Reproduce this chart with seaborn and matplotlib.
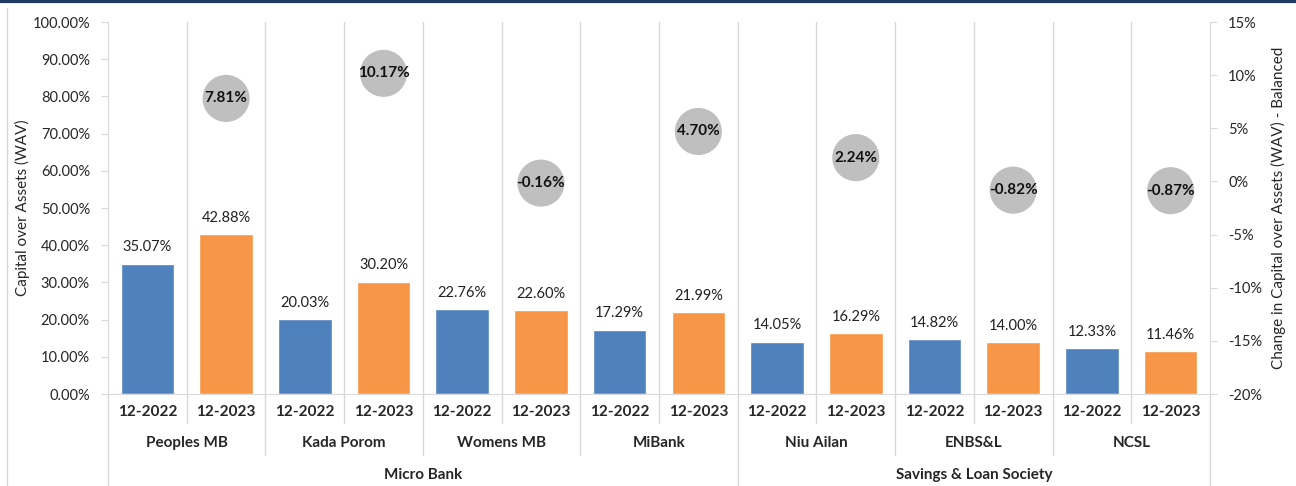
import numpy as np
import pandas as pd
import matplotlib
matplotlib.use("Agg")
import matplotlib.pyplot as plt
import matplotlib.ticker as mticker
from matplotlib.lines import Line2D
import seaborn as sns

# --- dane ---
groups = ["Micro Bank", "Savings & Loan Society"]
banks = ["Peoples MB", "Kada Porom", "Womens MB", "MiBank", "Niu Ailan", "ENBS&L", "NCSL"]
bank_group = ["Micro Bank", "Micro Bank", "Micro Bank", "Micro Bank",
              "Savings & Loan Society", "Savings & Loan Society", "Savings & Loan Society"]
periods = ["12-2022", "12-2023"]
cap_2022 = [35.07, 20.03, 22.76, 17.29, 14.05, 14.82, 12.33]
cap_2023 = [42.88, 30.20, 22.60, 21.99, 16.29, 14.00, 11.46]
change = [7.81, 10.17, -0.16, 4.70, 2.24, -0.82, -0.87]

BLUE = "#4F81BD"
ORANGE = "#F79646"
GRID = "#D9D9D9"
FONT = ["Lato", "DejaVu Sans"]

rows = []
for i, b in enumerate(banks):
    rows.append({"slot": f"{b}|{periods[0]}", "period": periods[0], "value": cap_2022[i]})
    rows.append({"slot": f"{b}|{periods[1]}", "period": periods[1], "value": cap_2023[i]})
df = pd.DataFrame(rows)

sns.set_style("white")
plt.rcParams["font.family"] = FONT

fig = plt.figure(figsize=(12.96, 4.86), dpi=100)
ax = fig.add_axes([108 / 1296, 1 - 394 / 486, (1210 - 108) / 1296, (394 - 22) / 486])

sns.barplot(data=df, x="slot", y="value", hue="period", dodge=False,
            palette={periods[0]: BLUE, periods[1]: ORANGE}, width=0.68,
            saturation=1, legend=False, ax=ax)

n = len(df)
ax.set_xlim(-0.5, n - 0.5)
ax.set_ylim(0, 100)
ax.yaxis.set_major_locator(mticker.MultipleLocator(10))
ax.yaxis.set_major_formatter(mticker.FuncFormatter(lambda v, _: f"{v:.2f}%"))
ax.set_xticks([])
ax.set_xlabel("")
ax.set_ylabel("Capital over Assets (WAV)", fontsize=11, labelpad=2)
ax.tick_params(axis="y", labelsize=10.5, length=5, color=GRID, pad=8)
for s in ["top", "right"]:
    ax.spines[s].set_visible(False)
for s in ["left", "bottom"]:
    ax.spines[s].set_color(GRID)

# linie pionowe między kategoriami
for k in range(1, n):
    ax.axvline(k - 0.5, color=GRID, linewidth=1, zorder=0)

# etykiety słupków
for p in ax.patches:
    h = p.get_height()
    if np.isnan(h) or h == 0:
        continue
    ax.text(p.get_x() + p.get_width() / 2, h + 2.5, f"{h:.2f}%",
            ha="center", va="bottom", fontsize=10.5, color="#222222")

# druga oś - zmiana
ax2 = ax.twinx()
ax2.set_ylim(-20, 15)
ax2.yaxis.set_major_locator(mticker.MultipleLocator(5))
ax2.yaxis.set_major_formatter(mticker.FuncFormatter(lambda v, _: f"{v:.0f}%"))
ax2.tick_params(axis="y", labelsize=10.5, length=5, color=GRID, pad=8)
for s in ["top", "left", "bottom"]:
    ax2.spines[s].set_visible(False)
ax2.spines["right"].set_color(GRID)
ax2.set_ylabel("Change in Capital over Assets (WAV) - Balanced", fontsize=11, labelpad=6)

chg_x = [2 * i + 1 for i in range(len(banks))]
sns.scatterplot(x=chg_x, y=change, s=1150, color="#BFBFBF", edgecolor="none",
                ax=ax2, legend=False, zorder=5)
for xi, c in zip(chg_x, change):
    ax2.text(xi, c, f"{c:.2f}%", ha="center", va="center", fontsize=11,
             fontweight="bold", color="#111111", zorder=6)

# etykiety osi X na trzech poziomach
trans = ax.get_xaxis_transform()
y_year, y_bank, y_group = -0.048, -0.132, -0.218
line_ends = {"year": -0.078, "bank": -0.163, "group": -0.26}

for i in range(n):
    ax.text(i, y_year, df["period"].iloc[i], transform=trans, ha="center", va="center",
            fontsize=11, fontweight="bold", clip_on=False)
for i, b in enumerate(banks):
    ax.text(2 * i + 0.5, y_bank, b, transform=trans, ha="center", va="center",
            fontsize=11, fontweight="bold", clip_on=False)
for g in groups:
    idx = [i for i, bg in enumerate(bank_group) if bg == g]
    centre = (2 * idx[0] + 2 * idx[-1] + 1) / 2
    ax.text(centre, y_group, g, transform=trans, ha="center", va="center",
            fontsize=11, fontweight="bold", clip_on=False)

boundaries_group = [-0.5, n - 0.5]
for i in range(1, len(banks)):
    if bank_group[i] != bank_group[i - 1]:
        boundaries_group.append(2 * i - 0.5)
for k in range(n + 1):
    xb = k - 0.5
    if xb in boundaries_group:
        end = line_ends["group"]
    elif k % 2 == 0:
        end = line_ends["bank"]
    else:
        end = line_ends["year"]
    ax.add_line(Line2D([xb, xb], [0, end], transform=trans, color=GRID,
                       linewidth=1, clip_on=False))

# ramka
fig.add_artist(Line2D([0, 1], [1 - 1.5 / 486, 1 - 1.5 / 486], transform=fig.transFigure,
                      color="#1F3864", linewidth=3))
fig.add_artist(Line2D([6.5 / 1296, 6.5 / 1296], [0, 1 - 8 / 486], transform=fig.transFigure,
                      color=GRID, linewidth=1))

fig.savefig("out.png", dpi=100)
